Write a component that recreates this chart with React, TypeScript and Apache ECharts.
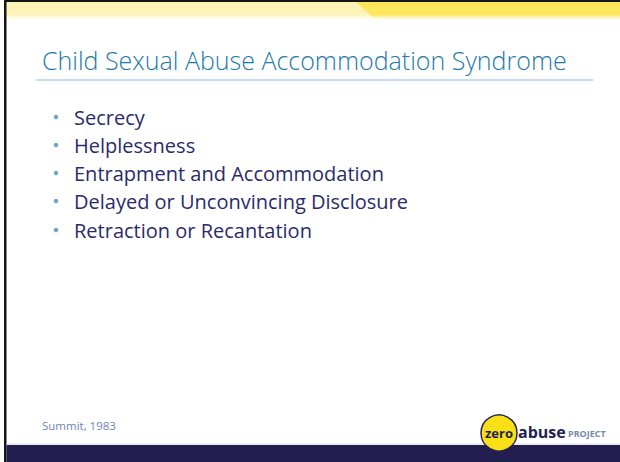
import React, { useEffect, useRef } from "react";
import * as echarts from "echarts";

const titleText = "Child Sexual Abuse Accommodation Syndrome";
const bulletItems = [
  "Secrecy",
  "Helplessness",
  "Entrapment and Accommodation",
  "Delayed or Unconvincing Disclosure",
  "Retraction or Recantation",
];
const bulletRowsY = [117, 145, 173, 201, 230];
const footerText = "Summit, 1983";
const logoWords = ["zero", "abuse", "PROJECT"];

const FONT = "'Open Sans', Lato, sans-serif";

export default function App() {
  const ref = useRef<HTMLDivElement>(null);
  useEffect(() => {
    document.body.style.margin = "0";
    const chart = echarts.init(ref.current!, undefined, { renderer: "svg" });
    const G = echarts.graphic;
    const elements: any[] = [];
    elements.push({ type: "rect", shape: { x: 0, y: 0, width: 620, height: 462 }, style: { fill: "#ffffff" } });
    elements.push({
      type: "rect",
      shape: { x: 6, y: 2, width: 614, height: 20 },
      style: {
        fill: new G.LinearGradient(0, 0, 0, 1, [
          { offset: 0, color: "#fcf3b4" },
          { offset: 0.65, color: "#fcf4bc" },
          { offset: 1, color: "rgba(255,255,255,0)" },
        ]),
      },
    });
    elements.push({
      type: "polygon",
      shape: { points: [[356, 2], [620, 2], [620, 20], [376, 20]] },
      style: {
        fill: new G.LinearGradient(0, 0, 0, 1, [
          { offset: 0, color: "#fde55a" },
          { offset: 0.7, color: "#fde860" },
          { offset: 1, color: "rgba(255,248,200,0)" },
        ]),
      },
    });
    elements.push({ type: "rect", shape: { x: 4, y: 0, width: 616, height: 2 }, style: { fill: "#151515" } });
    elements.push({ type: "rect", shape: { x: 4, y: 0, width: 2.5, height: 462 }, style: { fill: "#151515" } });
    elements.push({
      type: "text",
      x: 42,
      y: 60,
      style: {
        text: titleText,
        fill: "#1d79ab",
        font: `300 25px ${FONT}`,
        verticalAlign: "middle",
        align: "left",
      },
    });
    elements.push({
      type: "line",
      shape: { x1: 36, y1: 80, x2: 593, y2: 80 },
      style: { stroke: "#93b6e6", lineWidth: 1.2 },
    });
    bulletItems.forEach((t, i) => {
      const y = bulletRowsY[i];
      elements.push({ type: "circle", shape: { cx: 56, cy: y, r: 2.2 }, style: { fill: "#6ea6c9" } });
      elements.push({
        type: "text",
        x: 74,
        y,
        style: { text: t, fill: "#2a2b6b", font: `400 20px ${FONT}`, verticalAlign: "middle", align: "left" },
      });
    });
    elements.push({
      type: "text",
      x: 42,
      y: 425,
      style: { text: footerText, fill: "#6f82bb", font: `400 11.5px ${FONT}`, verticalAlign: "middle", align: "left" },
    });
    elements.push({ type: "rect", shape: { x: 6.5, y: 445, width: 614, height: 17 }, style: { fill: "#221e50" } });
    elements.push({ type: "line", shape: { x1: 6.5, y1: 444, x2: 620, y2: 444 }, style: { stroke: "#d8d8e0", lineWidth: 1 } });
    elements.push({ type: "circle", shape: { cx: 499, cy: 433, r: 18 }, style: { fill: "#f9e016", stroke: "#2a2550", lineWidth: 1.5 } });
    elements.push({
      type: "text",
      x: 499,
      y: 433,
      style: { text: logoWords[0], fill: "#241f52", font: `700 13px ${FONT}`, verticalAlign: "middle", align: "center" },
    });
    elements.push({
      type: "text",
      x: 518,
      y: 432,
      style: { text: logoWords[1], fill: "#241f52", font: `700 16px ${FONT}`, verticalAlign: "middle", align: "left" },
    });
    elements.push({
      type: "text",
      x: 568,
      y: 433,
      style: { text: logoWords[2], fill: "#7b89a6", font: `700 9px ${FONT}`, verticalAlign: "middle", align: "left" },
    });

    chart.setOption({ animation: false, graphic: { elements } });
    return () => chart.dispose();
  }, []);
  return <div ref={ref} style={{ width: 620, height: 462 }} />;
}
